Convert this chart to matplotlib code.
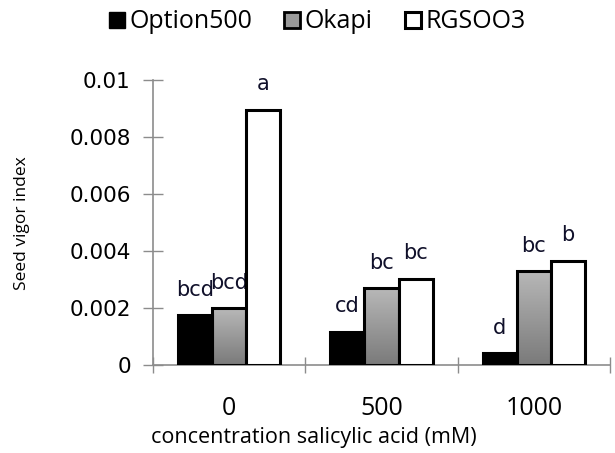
import matplotlib
matplotlib.use("Agg")
import matplotlib.pyplot as plt
from matplotlib.lines import Line2D
import numpy as np

# seed vigor index per cultivar at each salicylic acid level
concentrations = ["0", "500", "1000"]
cultivars = ["Option500", "Okapi", "RGSOO3"]
option500 = [0.00175, 0.00116, 0.00042]
okapi = [0.00200, 0.00270, 0.00330]
rgsoo3 = [0.00895, 0.00302, 0.00366]
letters_option500 = ["bcd", "cd", "d"]
letters_okapi = ["bcd", "bc", "bc"]
letters_rgsoo3 = ["a", "bc", "b"]

series = [option500, okapi, rgsoo3]
letters = [letters_option500, letters_okapi, letters_rgsoo3]

fig = plt.figure(figsize=(6.15, 4.53), dpi=100)
ax = fig.add_axes([153 / 615, 1 - 365 / 453, 457 / 615, 285 / 453])

x = np.arange(len(concentrations))
width = 0.224
offsets = [-width, 0, width]
axis_grey = "#8c8c8c"

# vertical grey ramp used to fill the Okapi bars
ramp = np.linspace(0, 1, 256).reshape(-1, 1)
ramp_cmap = matplotlib.colors.LinearSegmentedColormap.from_list(
    "ramp", ["#7a7a7a", "#b8b8b8"])

for k, vals in enumerate(series):
    pos = x + offsets[k]
    if k == 0:
        bars = ax.bar(pos, vals, width, color="black", edgecolor="black",
                      linewidth=2.2, zorder=3)
    elif k == 1:
        bars = ax.bar(pos, vals, width, facecolor="none", edgecolor="black",
                      linewidth=2.2, zorder=3)
        for b in bars:
            im = ax.imshow(ramp, cmap=ramp_cmap, aspect="auto", origin="lower",
                           extent=[b.get_x(), b.get_x() + b.get_width(),
                                   0, b.get_height()], zorder=2)
            im.set_clip_path(b)
    else:
        bars = ax.bar(pos, vals, width, color="white", edgecolor="black",
                      linewidth=2.2, zorder=3)
    for b, v, lab in zip(bars, vals, letters[k]):
        ax.annotate(lab, (b.get_x() + b.get_width() / 2, v),
                    xytext=(0, 14), textcoords="offset points",
                    ha="center", va="baseline", fontsize=15,
                    family="DejaVu Sans", color="#10102a", zorder=2.5)

ax.set_xlim(-0.5, 2.5)
ax.set_ylim(0, 0.01)
ax.set_yticks([0, 0.002, 0.004, 0.006, 0.008, 0.01])
ax.set_yticklabels(["0", "0.002", "0.004", "0.006", "0.008", "0.01"],
                   family="DejaVu Sans", fontsize=15.5)
ax.tick_params(axis="y", direction="inout", length=14, width=1,
               color=axis_grey, pad=9)

ax.set_xticks(x)
ax.set_xticklabels(concentrations, family="Open Sans", fontsize=18)
ax.tick_params(axis="x", which="major", length=0, pad=22)
ax.set_xticks([-0.5, 0.5, 1.5, 2.5], minor=True)
ax.tick_params(axis="x", which="minor", direction="inout", length=12,
               width=1, color=axis_grey)

for side in ["top", "right"]:
    ax.spines[side].set_visible(False)
for side in ["left", "bottom"]:
    ax.spines[side].set_color(axis_grey)
    ax.spines[side].set_linewidth(1.2)

fig.text(22 / 615, 1 - 223 / 453, "Seed vigor index", rotation=90,
         ha="center", va="center", family="Open Sans", fontsize=12.5)
fig.text(314 / 615, 1 - 437 / 453, "concentration salicylic acid (mM)",
         ha="center", va="center", family="Open Sans", fontsize=15.5)

handles = [
    Line2D([], [], marker="s", linestyle="none", markersize=11,
           markerfacecolor="black", markeredgecolor="black"),
    Line2D([], [], marker="s", linestyle="none", markersize=11,
           markerfacecolor="#9a9a9a", markeredgecolor="black",
           markeredgewidth=2),
    Line2D([], [], marker="s", linestyle="none", markersize=11,
           markerfacecolor="white", markeredgecolor="black",
           markeredgewidth=2.2),
]
fig.legend(handles, cultivars, loc="center", ncol=3,
           bbox_to_anchor=(316 / 615, 1 - 22 / 453), frameon=False,
           prop={"family": "Open Sans", "size": 18},
           handletextpad=0.1, columnspacing=1.2, handlelength=0.8)

fig.savefig("out.png", dpi=100)
